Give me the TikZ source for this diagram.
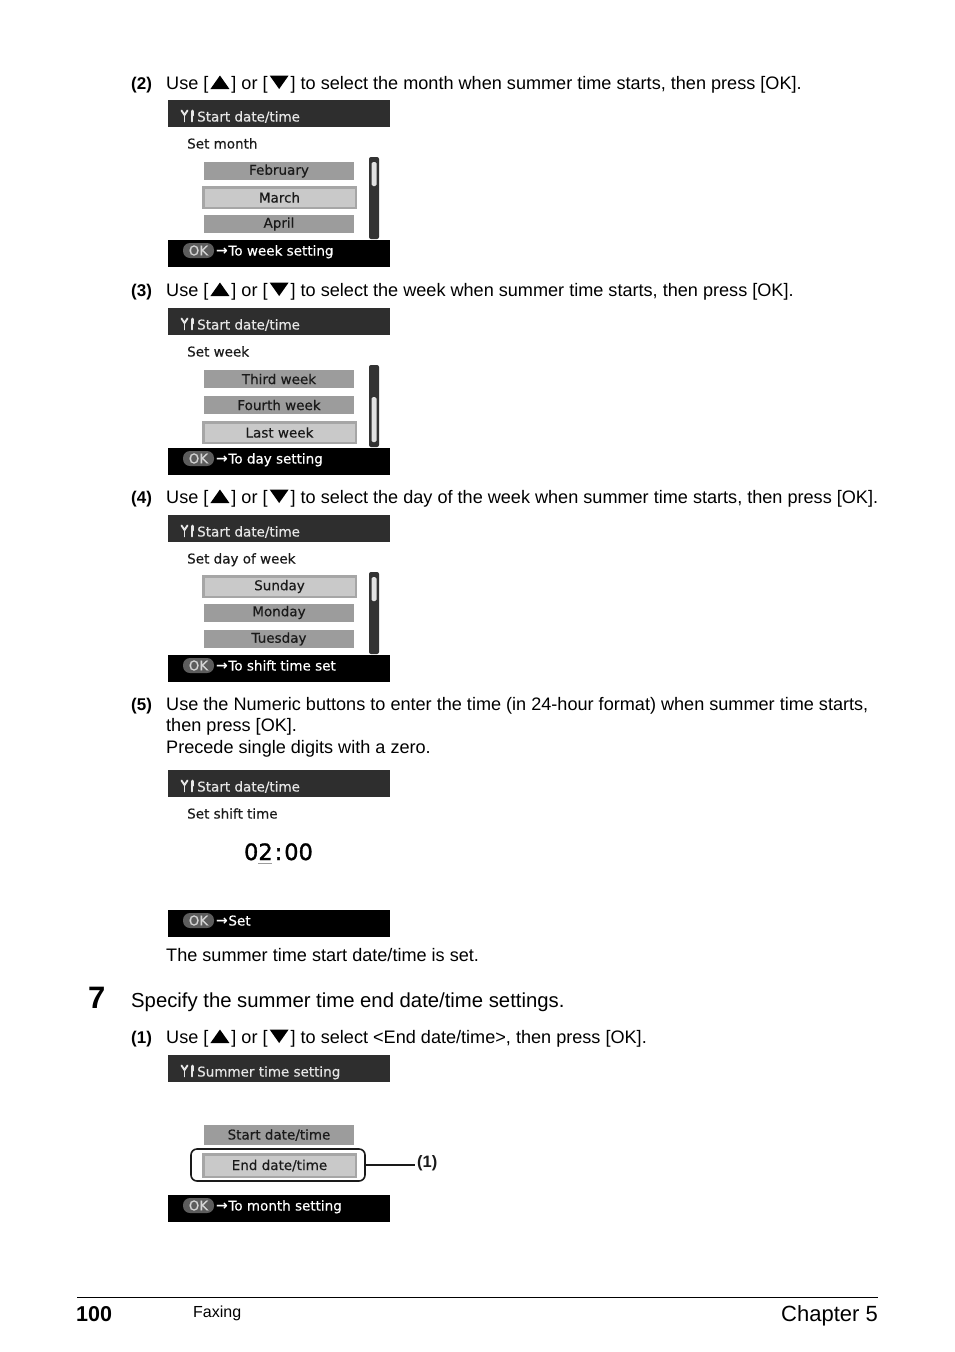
\documentclass[tikz,border=0pt]{standalone}
\usepackage{fontspec}
\setmainfont{Liberation Sans}
\newfontfamily\scrfont[FakeBold=0.4]{DejaVu Sans}
\newfontfamily\digfont[FakeBold=1.3]{DejaVu Sans}
\newfontfamily\arrfont{DejaVu Sans}
\definecolor{barcol}{HTML}{2E2E2E}
\definecolor{titletext}{HTML}{E6E6E6}
\definecolor{itemgray}{HTML}{9C9C9C}
\definecolor{hlin}{HTML}{C9C9C9}
\definecolor{hlout}{HTML}{A6A6A6}
\definecolor{trackcol}{HTML}{333333}
\definecolor{thumbcol}{HTML}{E2E2E2}
\definecolor{pillcol}{HTML}{5C5C5C}
\definecolor{pilltext}{HTML}{D4D4D4}
\definecolor{scrblack}{HTML}{1A1A1A}
\newcommand\scrfs{\scrfont\fontsize{13.5}{16}\selectfont}
\newcommand\uptri{\kern2pt\tikz[baseline=0pt]\fill (0pt,0pt) -- (19pt,0pt) -- (9.5pt,13.5pt) -- cycle;\kern2pt}
\newcommand\dntri{\kern2pt\tikz[baseline=0pt]\fill (0pt,13.5pt) -- (19pt,13.5pt) -- (9.5pt,0pt) -- cycle;\kern2pt}
\newcommand\upt{[\uptri]}
\newcommand\dnt{[\dntri]}
\newcommand\arr{{\arrfont\bfseries\fontsize{14}{14}\selectfont →}\kern0.5pt}
\tikzset{
  ttext/.style={anchor=base west, inner sep=0, font=\scrfs, text=titletext},
  stext/.style={anchor=base west, inner sep=0, font=\scrfs, text=scrblack},
  item/.style={rectangle, fill=itemgray, minimum width=150, minimum height=18, inner sep=0, font=\scrfs, text=scrblack},
  hlitem/.style={item, fill=hlin, draw=hlout, line width=2.5, minimum width=152.5, minimum height=20.5},
  okpill/.style={rectangle, rounded corners=7, fill=pillcol, minimum width=31, minimum height=15, inner sep=0, font=\scrfs, text=pilltext},
  bartext/.style={anchor=base west, inner sep=0, font=\scrfs, text=white},
  body/.style={anchor=base west, inner sep=0, font=\fontsize{18.1}{21}\selectfont},
  num/.style={anchor=base west, inner sep=0, font=\bfseries\fontsize{17}{21}\selectfont},
  callout/.style={rectangle, rounded corners=6, draw=scrblack, line width=1.6, minimum width=174, minimum height=32, inner sep=0},
  calltext/.style={anchor=west, inner sep=2, font=\bfseries\fontsize{16.5}{19}\selectfont, text=scrblack},
  callline/.style={draw=scrblack, line width=1.4},
  iconline/.style={draw=titletext, line width=1.9, line cap=round},
}
\newcommand\scricon{%
  \begin{scope}[shift={(181.5,110.5)}]
    \draw[iconline] (0,0) -- (3,4.5) -- (6,0);
    \draw[iconline] (3,4.5) -- (3,11);
    \draw[iconline, line width=3] (10.5,0.5) -- (10.5,5);
    \draw[iconline, line width=1.8] (10.5,5) -- (10.5,11);
  \end{scope}}
\newcommand\titlebar[1]{%
  \fill[barcol] (168,100) rectangle (390,127);
  \scricon}
\newcommand\botbar{\fill[black] (168,240) rectangle (390,267);}
\begin{document}
\begin{tikzpicture}[x=1pt,y=-1pt]
\useasboundingbox[fill=white] (0,0) rectangle (954,1352);

% ---------- step (2)
\node[num]  (n2) at (131,89) {(2)};
\node[body] (l2) at (166,89) {Use \upt{} or \dnt{} to select the month when summer time starts, then press [OK].};
\begin{scope}[shift={(0,0)}]
  \titlebar{}
  \node[ttext] (t1) at (197,121.5) {Start date/time};
  \node[stext] (s1) at (187,148.5) {Set month};
  \node[item]   (i1a) at (279,171) {February};
  \node[hlitem] (i1b) at (279.5,197.5) {March};
  \node[item]   (i1c) at (279,224) {April};
  \fill[trackcol, rounded corners=2] (369,157) rectangle (379,239);
  \fill[thumbcol, rounded corners=1.5] (371.5,162) rectangle (376.5,186);
  \botbar
  \node[okpill]  (ok1) at (198.5,250.5) {OK};
  \node[bartext] (b1) at (216,255.5) {\arr To week setting};
\end{scope}

% ---------- step (3)
\node[num]  (n3) at (131,296) {(3)};
\node[body] (l3) at (166,296) {Use \upt{} or \dnt{} to select the week when summer time starts, then press [OK].};
\begin{scope}[shift={(0,208)}]
  \titlebar{}
  \node[ttext] (t2) at (197,121.5) {Start date/time};
  \node[stext] (s2) at (187,148.5) {Set week};
  \node[item]   (i2a) at (279,171) {Third week};
  \node[item]   (i2b) at (279,197) {Fourth week};
  \node[hlitem] (i2c) at (279.5,224.5) {Last week};
  \fill[trackcol, rounded corners=2] (369,157) rectangle (379,239);
  \fill[thumbcol, rounded corners=1.5] (371.5,189) rectangle (376.5,234);
  \botbar
  \node[okpill]  (ok2) at (198.5,250.5) {OK};
  \node[bartext] (b2) at (216,255.5) {\arr To day setting};
\end{scope}

% ---------- step (4)
\node[num]  (n4) at (131,503) {(4)};
\node[body] (l4) at (166,503) {Use \upt{} or \dnt{} to select the day of the week when summer time starts, then press [OK].};
\begin{scope}[shift={(0,415)}]
  \titlebar{}
  \node[ttext] (t3) at (197,121.5) {Start date/time};
  \node[stext] (s3) at (187,148.5) {Set day of week};
  \node[hlitem] (i3a) at (279.5,171.5) {Sunday};
  \node[item]   (i3b) at (279,197.5) {Monday};
  \node[item]   (i3c) at (279,224) {Tuesday};
  \fill[trackcol, rounded corners=2] (369,157) rectangle (379,239);
  \fill[thumbcol, rounded corners=1.5] (371.5,162) rectangle (376.5,186);
  \botbar
  \node[okpill]  (ok3) at (198.5,250.5) {OK};
  \node[bartext] (b3) at (216,255.5) {\arr To shift time set};
\end{scope}

% ---------- step (5)
\node[num]  (n5) at (131,710) {(5)};
\node[body] (l5a) at (166,710) {Use the Numeric buttons to enter the time (in 24-hour format) when summer time starts,};
\node[body] (l5b) at (166,731.5) {then press [OK].};
\node[body] (l5c) at (166,753) {Precede single digits with a zero.};
\begin{scope}[shift={(0,670)}]
  \titlebar{}
  \node[ttext] (t4) at (197,121.5) {Start date/time};
  \node[stext] (s4) at (187,148.5) {Set shift time};
  \node[anchor=base, inner sep=0, font=\digfont\fontsize{22.5}{26}\selectfont, text=black] (tm) at (278.5,190) {02\kern2pt:\kern2pt00};
  \draw[draw=itemgray, line width=1.6] (258,193.5) -- (272,193.5);
  \botbar
  \node[okpill]  (ok4) at (198.5,250.5) {OK};
  \node[bartext] (b4) at (216,255.5) {\arr Set};
\end{scope}
\node[body] (done) at (166,961) {The summer time start date/time is set.};

% ---------- step 7
\node[anchor=base west, inner sep=0, font=\bfseries\fontsize{31}{36}\selectfont] (s7) at (88,1008) {7};
\node[anchor=base west, inner sep=0, font=\fontsize{20.3}{24}\selectfont] (h7) at (131,1007) {Specify the summer time end date/time settings.};
\node[num]  (n1) at (131,1043) {(1)};
\node[body] (l1) at (166,1043) {Use \upt{} or \dnt{} to select <End date/time>, then press [OK].};
\begin{scope}[shift={(0,955)}]
  \titlebar{}
  \node[ttext] (t5) at (197,121.5) {Summer time setting};
  \node[item, minimum height=20] (i5a) at (279,180) {Start date/time};
  \node[hlitem, minimum height=22.5] (i5b) at (279.5,210.5) {End date/time};
  \node[callout] (co) at (278,210) {};
  \node[calltext] (cl) at (415,208.5) {(1)};
  \draw[callline] (co.east) -- (co.east -| cl.west);
  \botbar
  \node[okpill]  (ok5) at (198.5,250.5) {OK};
  \node[bartext] (b5) at (216,255.5) {\arr To month setting};
\end{scope}

% ---------- footer
\draw[line width=1] (77,1297) -- (878,1297);
\node[anchor=base west, inner sep=0, font=\bfseries\fontsize{21.5}{25}\selectfont] (pg) at (76,1321) {100};
\node[anchor=base west, inner sep=0, font=\fontsize{16}{19}\selectfont] (fx) at (193,1317) {Faxing};
\node[anchor=base east, inner sep=0, font=\fontsize{22}{26}\selectfont] (ch) at (878,1321) {Chapter 5};
\end{tikzpicture}
\end{document}
